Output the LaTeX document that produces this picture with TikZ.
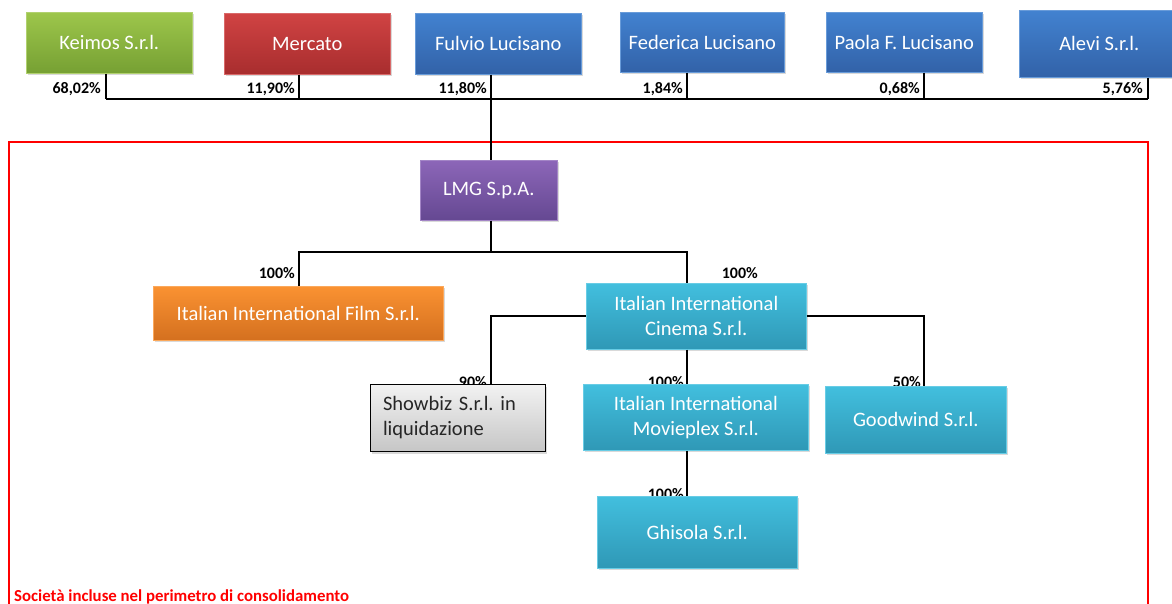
\documentclass[tikz,border=0pt]{standalone}
\usepackage{fontspec}
\setmainfont{Carlito}
\usetikzlibrary{shadows}
\frenchspacing
\definecolor{gTop}{HTML}{9DC64B}\definecolor{gBot}{HTML}{76A033}
\definecolor{rTop}{HTML}{D04343}\definecolor{rBot}{HTML}{A82D2E}
\definecolor{bTop}{HTML}{4282D0}\definecolor{bBot}{HTML}{3262A8}
\definecolor{pTop}{HTML}{8C66B8}\definecolor{pBot}{HTML}{654892}
\definecolor{oTop}{HTML}{FA9232}\definecolor{oBot}{HTML}{D4701F}
\definecolor{cTop}{HTML}{42BFDE}\definecolor{cBot}{HTML}{2F98B6}
\definecolor{sTop}{HTML}{F2F2F2}\definecolor{sBot}{HTML}{C6C6C6}
\begin{document}
\frenchspacing
\begin{tikzpicture}[x=1pt,y=-1pt,
  box/.style={rectangle, anchor=north west, inner sep=0pt, text=white,
    font=\fontsize{20.5}{25}\selectfont, align=center,
    drop shadow={shadow xshift=1.5pt, shadow yshift=-2pt, opacity=0.3}},
  greenbox/.style={box, top color=gTop, bottom color=gBot, draw=gTop!80!white, line width=0.6pt},
  redbox/.style={box, top color=rTop, bottom color=rBot, draw=rTop!80!white, line width=0.6pt},
  bluebox/.style={box, top color=bTop, bottom color=bBot, draw=bTop!80!white, line width=0.6pt},
  purplebox/.style={box, top color=pTop, bottom color=pBot, draw=pTop!80!white, line width=0.6pt},
  orangebox/.style={box, top color=oTop, bottom color=oBot, draw=oTop!80!white, line width=0.6pt},
  cyanbox/.style={box, top color=cTop, bottom color=cBot, draw=cTop!80!white, line width=0.6pt},
  greybox/.style={box, top color=sTop, bottom color=sBot, draw=black, line width=1pt, text=black!85, align=left},
  pct/.style={font=\bfseries\fontsize{16}{18}\selectfont, anchor=base east, inner sep=0pt, text=black},
  conn/.style={line width=1.8pt, black}]
\useasboundingbox (0,0) rectangle (1172,604);

% red perimeter frame
\draw[red, line width=1.3pt] (9,142) rectangle (1148,640);

% coordinates for connector positions
\coordinate (b1) at (106,99);
\coordinate (b2) at (299,99);
\coordinate (b3) at (491,99);
\coordinate (b4) at (687,99);
\coordinate (b5) at (924,99);
\coordinate (b6) at (1148,99);
\coordinate (t1) at (299,252);
\coordinate (t2) at (687,252);
\coordinate (sx) at (491,315);
\coordinate (gx) at (924,315);
\coordinate (mx) at (687,400);

% percentage labels (behind boxes)
\node[pct] (p1) at (101,94) {68,02\%};
\node[pct] (p2) at (295,94) {11,90\%};
\node[pct] (p3) at (487,94) {11,80\%};
\node[pct] (p4) at (683,94) {1,84\%};
\node[pct] (p5) at (920,94) {0,68\%};
\node[pct] (p6) at (1143,94) {5,76\%};
\node[pct] (p7) at (295,278) {100\%};
\node[pct] (p8) at (758,278) {100\%};
\node[pct] (p9) at (487,387) {90\%};
\node[pct] (p10) at (684,387) {100\%};
\node[pct] (p11) at (921,387) {50\%};
\node[pct] (p12) at (684,499) {100\%};

% shareholders
\node[greenbox, minimum width=166pt, minimum height=61pt] (keimos) at (26,12) {Keimos S.r.l.};
\node[redbox, minimum width=166pt, minimum height=61pt] (mercato) at (224,13) {Mercato};
\node[bluebox, minimum width=166pt, minimum height=61pt] (fulvio) at (415,13) {Fulvio Lucisano};
\node[bluebox, minimum width=164pt, minimum height=60pt] (federica) at (620,12) {Federica Lucisano};
\node[bluebox, minimum width=156pt, minimum height=60pt] (paola) at (826,12) {Paola F. Lucisano};
\node[bluebox, minimum width=160pt, minimum height=67pt] (alevi) at (1019,10) {Alevi S.r.l.};

% group
\node[purplebox, minimum width=137pt, minimum height=60pt] (lmg) at (420,160) {LMG S.p.A.};
\node[orangebox, minimum width=290pt, minimum height=54pt] (film) at (153,286) {Italian International Film S.r.l.};
\node[cyanbox, minimum width=220pt, minimum height=66pt] (cinema) at (586,283) {Italian International\\Cinema S.r.l.};
\node[greybox, minimum width=175pt, minimum height=67pt, text width=150pt] (showbiz) at (370,384) {Showbiz S.r.l. in\\liquidazione};
\node[cyanbox, minimum width=225pt, minimum height=66pt] (movieplex) at (583,384) {Italian International\\Movieplex S.r.l.};
\node[cyanbox, minimum width=181pt, minimum height=67pt] (goodwind) at (825,386) {Goodwind S.r.l.};
\node[cyanbox, minimum width=200pt, minimum height=72pt] (ghisola) at (597,496) {Ghisola S.r.l.};

% connectors
\draw[conn] (b1 |- keimos.south) -- (b1);
\draw[conn] (b2 |- mercato.south) -- (b2);
\draw[conn] (b3 |- fulvio.south) -- (b3);
\draw[conn] (b4 |- federica.south) -- (b4);
\draw[conn] (b5 |- paola.south) -- (b5);
\draw[conn] (b6 |- alevi.south) -- (b6);
\draw[conn] (b1) -- (b6);
\draw[conn] (b3) -- (b3 |- lmg.north);
\draw[conn] (b3 |- lmg.south) -- (b3 |- t1);
\draw[conn] (t1 |- film.north) -- (t1) -- (t2) -- (t2 |- cinema.north);
\draw[conn] (cinema.west) -| (sx |- showbiz.north);
\draw[conn] (cinema.east) -| (gx |- goodwind.north);
\draw[conn] (mx |- cinema.south) -- (mx |- movieplex.north);
\draw[conn] (mx |- movieplex.south) -- (mx |- ghisola.north);

% legend
\node[anchor=base west, inner sep=0pt, text=red, font=\bfseries\fontsize{16.8}{19}\selectfont] (legend) at (14,601) {Società incluse nel perimetro di consolidamento};
\end{tikzpicture}
\end{document}
